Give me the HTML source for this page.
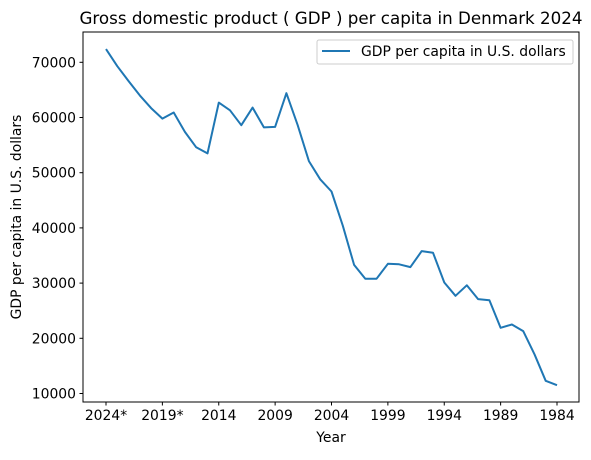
<!DOCTYPE html>
<html><head><meta charset="utf-8"><style>
body{margin:0;background:#fff;}
svg text{font-family:"DejaVu Sans","Liberation Sans",sans-serif;fill:#000;}
</style></head><body>
<svg id="chart" width="591" height="455" xmlns="http://www.w3.org/2000/svg">
<rect width="591" height="455" fill="#fff"/>
<text x="331" y="24" font-size="16.7" text-anchor="middle">Gross domestic product ( GDP ) per capita in Denmark 2024</text>
<g id="plot"></g>
<rect x="83" y="32" width="496" height="370" fill="none" stroke="#000" stroke-width="1"/>
<text x="331" y="442" font-size="13.9" text-anchor="middle">Year</text>
<text transform="translate(21,217) rotate(-90)" font-size="13.9" text-anchor="middle">GDP per capita in U.S. dollars</text>
<g>
<rect x="317" y="40" width="256" height="24" rx="2" fill="#fff" stroke="#ccc" stroke-width="1"/>
<line x1="322" y1="51" x2="350" y2="51" stroke="#1f77b4" stroke-width="2"/>
<text x="361" y="56" font-size="13.9">GDP per capita in U.S. dollars</text>
</g>
</svg>
<script>
const years = [2024,2023,2022,2021,2020,2019,2018,2017,2016,2015,2014,2013,2012,2011,2010,2009,2008,2007,2006,2005,2004,2003,2002,2001,2000,1999,1998,1997,1996,1995,1994,1993,1992,1991,1990,1989,1988,1987,1986,1985,1984];
const gdp = [72400,69300,66600,64000,61700,59800,60900,57400,54600,53500,62700,61300,58600,61800,58200,58300,64400,58600,52100,48800,46600,40400,33300,30800,30800,33500,33400,32900,35800,35500,30100,27700,29600,27100,26900,21900,22500,21300,17100,12300,11500];
const xTickLabels = ["2024*","2019*","2014","2009","2004","1999","1994","1989","1984"];
const xTickYears = [2024,2019,2014,2009,2004,1999,1994,1989,1984];
const yTicks = [10000,20000,30000,40000,50000,60000,70000];

const NS="http://www.w3.org/2000/svg";
const g=document.getElementById('plot');
function xS(yr){return 106+(2024-yr)*(557-106)/40;}
function yS(v){return 393.5-(v-10000)*(393.5-62.3)/60000;}
function mk(t,a){const e=document.createElementNS(NS,t);for(const k in a)e.setAttribute(k,a[k]);g.appendChild(e);return e;}
xTickYears.forEach((yr,i)=>{
  const x=xS(yr);
  const t=mk('line',{x1:x,y1:402,x2:x,y2:405.5,stroke:'#000'});
  
  
  const l=mk('text',{x:x,y:420,'font-size':13.9,'text-anchor':'middle'});
  l.textContent=xTickLabels[i];
  
  
});
yTicks.forEach(v=>{
  const y=yS(v);
  const t=mk('line',{x1:79.5,y1:y,x2:83,y2:y,stroke:'#000'});
  
  
  const l=mk('text',{x:76,y:y+5,'font-size':13.9,'text-anchor':'end'});
  l.textContent=String(v);
  
  
});
const pts=years.map((yr,i)=>xS(yr).toFixed(1)+','+yS(gdp[i]).toFixed(1)).join(' ');
const line=mk('polyline',{points:pts,fill:'none',stroke:'#1f77b4','stroke-width':2,'stroke-linejoin':'round'});


</script>
</body></html>
